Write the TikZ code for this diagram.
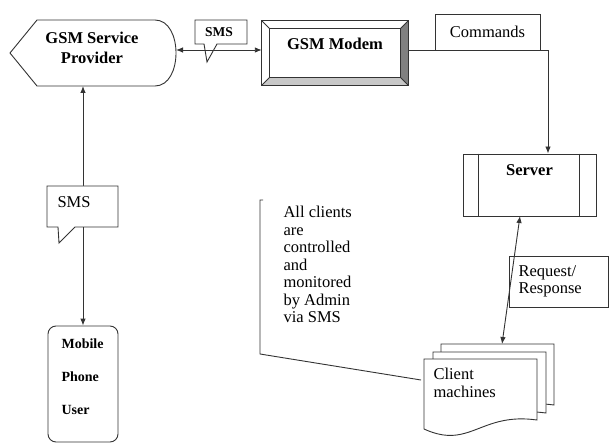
\documentclass[tikz,border=0pt]{standalone}
\usepackage{fontspec}
\setmainfont{Liberation Serif}
\usetikzlibrary{arrows.meta,calc}
\definecolor{trazo}{HTML}{333333}
\definecolor{grisos}{HTML}{808080}
\definecolor{grisclaro}{HTML}{C8C8C8}

\begin{document}
\begin{tikzpicture}[x=1pt, y=-1pt, >={Latex[length=7pt,width=5.5pt]},
  borde/.style={draw=trazo, line width=0.9pt},
  texto/.style={font=\fontsize{16.5}{17.5}\selectfont},
  negrita/.style={font=\fontsize{16.5}{20}\selectfont\bfseries}]
  \useasboundingbox (0,0) rectangle (609,443);
  \fill[white] (0,0) rectangle (609,443);

  % proveedor GSM
  \draw[borde] (10,53) -- (37,20) -- (155,20) .. controls (183,20) and (183,86) .. (155,86) -- (37,86) -- cycle;
  \node[negrita, align=center] (prov) at (92,48) {GSM Service\\Provider};
  \coordinate (provR) at (176,50);
  \coordinate (provB) at (83,86);

  % modem con bisel
  \node[minimum width=146pt, minimum height=64pt] (modem) at (335,53) {};
  \fill[grisos] (modem.north east) -- (modem.south east) -- ++(-8,-8) -- ($(modem.north east)+(-8,8)$) -- cycle;
  \fill[grisclaro] (modem.south west) -- (modem.south east) -- ++(-8,-8) -- ($(modem.south west)+(8,-8)$) -- cycle;
  \draw[borde] (modem.north west) rectangle (modem.south east);
  \draw[borde] ($(modem.north west)+(8,8)$) rectangle ($(modem.south east)+(-8,-8)$);
  \draw[borde] (modem.north west) -- ++(8,8);
  \draw[borde] (modem.north east) -- ++(-8,8);
  \draw[borde] (modem.south west) -- ++(8,-8);
  \draw[borde] (modem.south east) -- ++(-8,-8);
  \node[negrita] (modemtxt) at ($(modem.center)+(0,-9)$) {GSM Modem};

  % SMS entre proveedor y modem
  \draw[borde, fill=white] (195,20) -- (247,20) -- (247,44) -- (217,44) -- (207,62) -- (204,44) -- (195,44) -- cycle;
  \node[font=\fontsize{13.5}{14}\selectfont\bfseries] (sms1) at (219,32) {SMS};
  \draw[borde, <->] (provR) -- (modem.west |- provR);

  % comandos hacia el servidor
  \node[borde, texto, minimum width=105pt, minimum height=36pt] (cmd) at (487.5,32) {Commands};
  \node[borde, minimum width=133pt, minimum height=62pt] (srv) at (529.5,185) {};
  \draw[borde] ($(srv.north west)+(16,0)$) -- ($(srv.south west)+(16,0)$);
  \draw[borde] ($(srv.north east)+(-17,0)$) -- ($(srv.south east)+(-17,0)$);
  \node[negrita] (srvtxt) at (529.5,170) {Server};
  \coordinate (bend) at (548,50);
  \draw[borde, ->] (modem.east |- bend) -- (bend) -- (bend |- srv.north);

  % clientes
  \foreach \dx/\dy in {17/15, 9/7, 0/0}
    \draw[borde, fill=white] (424+\dx,359-\dy) -- ++(113,0) -- ++(0,61)
      .. controls +(-57,-8) and +(46,21) .. (424+\dx,429-\dy) -- cycle;
  \node[texto, anchor=north west, align=left] (cli) at (430,365) {Client\\machines};
  \coordinate (cliT) at (502,344);
  \coordinate (cliL) at (421,380);
  \coordinate (srvB) at (520,216);

  % peticion / respuesta
  \node[borde, texto, minimum width=99pt, minimum height=51pt, text width=80pt, align=left] (rr) at (558.5,281.5) {Request/\\Response};
  \draw[borde, <->] (srvB) -- (cliT);

  % nota del administrador
  \node[texto, anchor=north west, align=left] (nota) at (280,203) {All clients\\are\\controlled\\and\\monitored\\by Admin\\via SMS};
  \draw[borde] (263,200) -- (260,200) -- (260,354) -- (cliL);

  % usuario movil
  \node[borde, rounded corners=8pt, minimum width=70pt, minimum height=116pt] (mob) at (83,384) {};
  \node[font=\fontsize{14}{33}\selectfont\bfseries, anchor=north west, align=left] (mobtxt) at (58,335) {Mobile\\Phone\\User};
  \draw[borde, <->] (provB) -- (mob.north);
  \draw[borde, fill=white] (47,186) -- (118,186) -- (118,227) -- (75,227) -- (59,243) -- (58,227) -- (47,227) -- cycle;
  \node[texto, anchor=west] (sms2) at (54,202) {SMS};
\end{tikzpicture}
\end{document}
